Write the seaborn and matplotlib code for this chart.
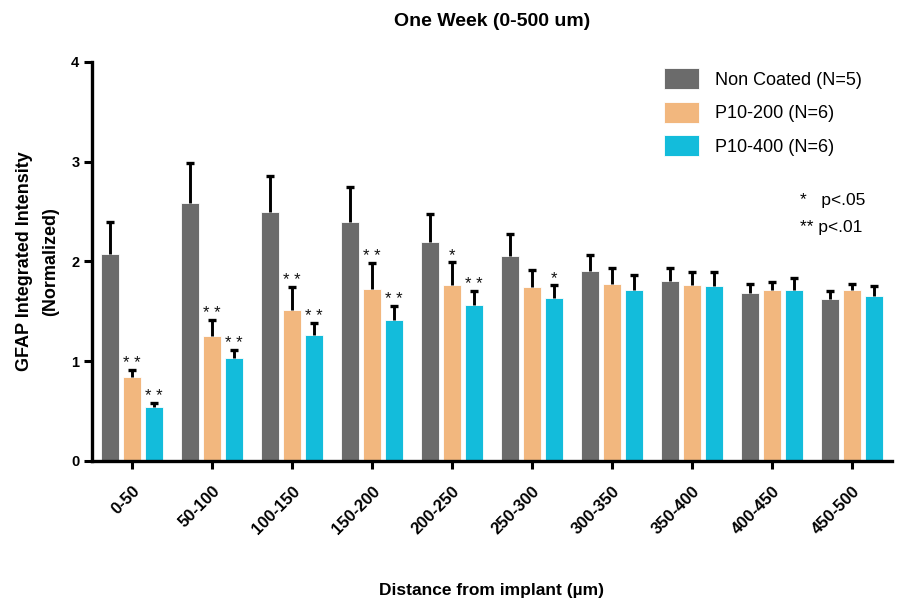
import numpy as np
import pandas as pd
import matplotlib
matplotlib.use("Agg")
import matplotlib.pyplot as plt
import seaborn as sns

# Distance bins from the implant surface
distances = ["0-50", "50-100", "100-150", "150-200", "200-250",
             "250-300", "300-350", "350-400", "400-450", "450-500"]
groups = ["Non Coated (N=5)", "P10-200 (N=6)", "P10-400 (N=6)"]

# Mean normalized GFAP intensity per bin
non_coated = [2.07, 2.59, 2.50, 2.40, 2.20, 2.05, 1.90, 1.80, 1.68, 1.62]
p10_200 = [0.84, 1.25, 1.51, 1.72, 1.76, 1.74, 1.77, 1.76, 1.71, 1.71]
p10_400 = [0.54, 1.03, 1.26, 1.41, 1.56, 1.63, 1.71, 1.75, 1.71, 1.65]

# Standard error (upper bars only)
sem_non_coated = [0.33, 0.40, 0.36, 0.35, 0.28, 0.23, 0.16, 0.13, 0.09, 0.08]
sem_p10_200 = [0.07, 0.16, 0.23, 0.26, 0.23, 0.17, 0.16, 0.13, 0.08, 0.06]
sem_p10_400 = [0.04, 0.08, 0.12, 0.14, 0.14, 0.13, 0.15, 0.14, 0.12, 0.10]

# Significance markers vs. non coated
sig_p10_200 = ["**", "**", "**", "**", "*", "", "", "", "", ""]
sig_p10_400 = ["**", "**", "**", "**", "**", "*", "", "", "", ""]

colors = ["#6b6b6b", "#f2b77e", "#13bcdb"]

df = pd.DataFrame({
    "distance": distances * 3,
    "group": [g for g in groups for _ in distances],
    "value": non_coated + p10_200 + p10_400,
})
sems = [sem_non_coated, sem_p10_200, sem_p10_400]
sigs = [None, sig_p10_200, sig_p10_400]

sns.set_style("ticks")
plt.rcParams["font.family"] = ["Liberation Sans", "DejaVu Sans"]
plt.rcParams.update({
    "text.color": "black",
    "axes.labelcolor": "black",
    "xtick.color": "black",
    "ytick.color": "black",
})

fig = plt.figure(figsize=(9.08, 6.04), dpi=100)
ax = fig.add_axes([0.1013, 0.2368, 0.881, 0.6606])

sns.barplot(data=df, x="distance", y="value", hue="group",
            order=distances, hue_order=groups, palette=colors,
            errorbar=None, width=0.825, gap=0.18, saturation=1,
            edgecolor="white", linewidth=0.6, ax=ax)

bar_containers = list(ax.containers)
for i, cont in enumerate(bar_containers):
    xs = [b.get_x() + b.get_width() / 2 for b in cont]
    hs = [b.get_height() for b in cont]
    eb = ax.errorbar(xs, hs, yerr=[np.zeros(len(hs)), sems[i]], fmt="none",
                     ecolor="black", elinewidth=2.1, capsize=3.2, capthick=2.4)
    # keep only the upper cap
    caps = eb.lines[1]
    if len(caps) == 2:
        caps[0].set_visible(False)
    if sigs[i] is not None:
        for x, h, e, s in zip(xs, hs, sems[i], sigs[i]):
            if s:
                ax.text(x, h + e - 0.005, " ".join(s), ha="center",
                        va="bottom", fontsize=12, color="#111111")

ax.set_ylim(0, 4)
ax.set_xlim(-0.5, 9.5)
ax.set_yticks([0, 1, 2, 3, 4])
ax.set_yticklabels(["0", "1", "2", "3", "4"], fontweight="bold", fontsize=10.5)
ax.set_xticks(range(len(distances)))
ax.set_xticklabels(distances, rotation=45, ha="right", rotation_mode="anchor",
                   fontweight="bold", fontsize=12)
ax.tick_params(axis="both", width=2.2, length=6, color="black")
ax.tick_params(axis="x", pad=10)
ax.tick_params(axis="y", pad=3)
for side in ["left", "bottom"]:
    ax.spines[side].set_linewidth(2.4)
    ax.spines[side].set_color("black")
sns.despine(ax=ax)

ax.set_xlabel("Distance from implant (µm)", fontweight="bold", fontsize=12.5,
              labelpad=33)
ax.set_ylabel("GFAP Integrated Intensity\n(Normalized)", fontweight="bold",
              fontsize=13, labelpad=9, linespacing=1.7)
ax.set_title("One Week (0-500 um)", fontweight="bold", fontsize=14, pad=26)

handles, labels = ax.get_legend_handles_labels()
ax.legend(handles, labels, loc="upper left", bbox_to_anchor=(0.695, 1.025),
          frameon=False, fontsize=13, handlelength=1.95, handleheight=1.4,
          handletextpad=0.85, labelspacing=0.7)

ax.text(0.8855, 0.652, "*   p<.05", transform=ax.transAxes, fontsize=12.5,
        ha="left", va="center")
ax.text(0.8855, 0.584, "** p<.01", transform=ax.transAxes, fontsize=12.5,
        ha="left", va="center")

fig.savefig("out.png", dpi=100)
